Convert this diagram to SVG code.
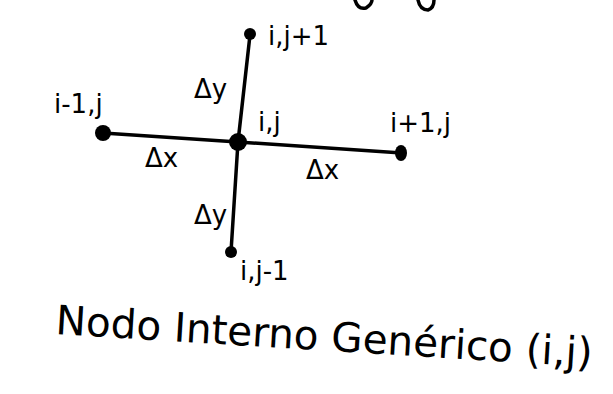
<svg xmlns="http://www.w3.org/2000/svg" width="613" height="394" viewBox="0 0 613 394">
<style>
.ln{stroke:#000;stroke-width:3.5;fill:none;stroke-linecap:round}
.nd{fill:#000}
.t{font-family:"DejaVu Sans","Liberation Sans",sans-serif;fill:#000}
.lb{font-size:26px}
.ttl{font-size:40.5px}
</style>
<rect width="613" height="394" fill="#fff"/>
<g id="connectors">
<path class="ln" d="M103,133 L238,142 L402,153"/>
<path class="ln" d="M250,35 L238,142 L231,252"/>
</g>
<g id="frag"><path class="ln" d="M355,0 Q358,10 366,8 Q372,4 372,0" stroke-width="3"/><path class="ln" d="M418,0 Q420,10 428,10 Q434,8 434,0" stroke-width="3"/></g>
<g id="node-center"><circle class="nd" cx="238" cy="142" r="9"/><text class="t lb" x="258" y="131">i,j</text></g>
<g id="node-top"><circle class="nd" cx="250" cy="34" r="6"/><text class="t lb" x="268" y="45">i,j+1</text></g>
<g id="node-left"><circle class="nd" cx="103" cy="133" r="8"/><text class="t lb" x="54" y="113">i-1,j</text></g>
<g id="node-right"><ellipse class="nd" cx="401" cy="153" rx="6" ry="8"/><text class="t lb" x="390" y="132">i+1,j</text></g>
<g id="node-bottom"><circle class="nd" cx="231" cy="252" r="6"/><text class="t lb" x="240" y="280">i,j-1</text></g>
<g id="labels">
<text class="t lb" x="194" y="98">Δy</text>
<text class="t lb" x="145" y="167">Δx</text>
<text class="t lb" x="306" y="179">Δx</text>
<text class="t lb" x="194" y="224">Δy</text>
</g>
<g id="title"><text class="t ttl" x="55" y="334" transform="rotate(3.5 55 334)">Nodo Interno Genérico (i,j)</text></g>
</svg>
